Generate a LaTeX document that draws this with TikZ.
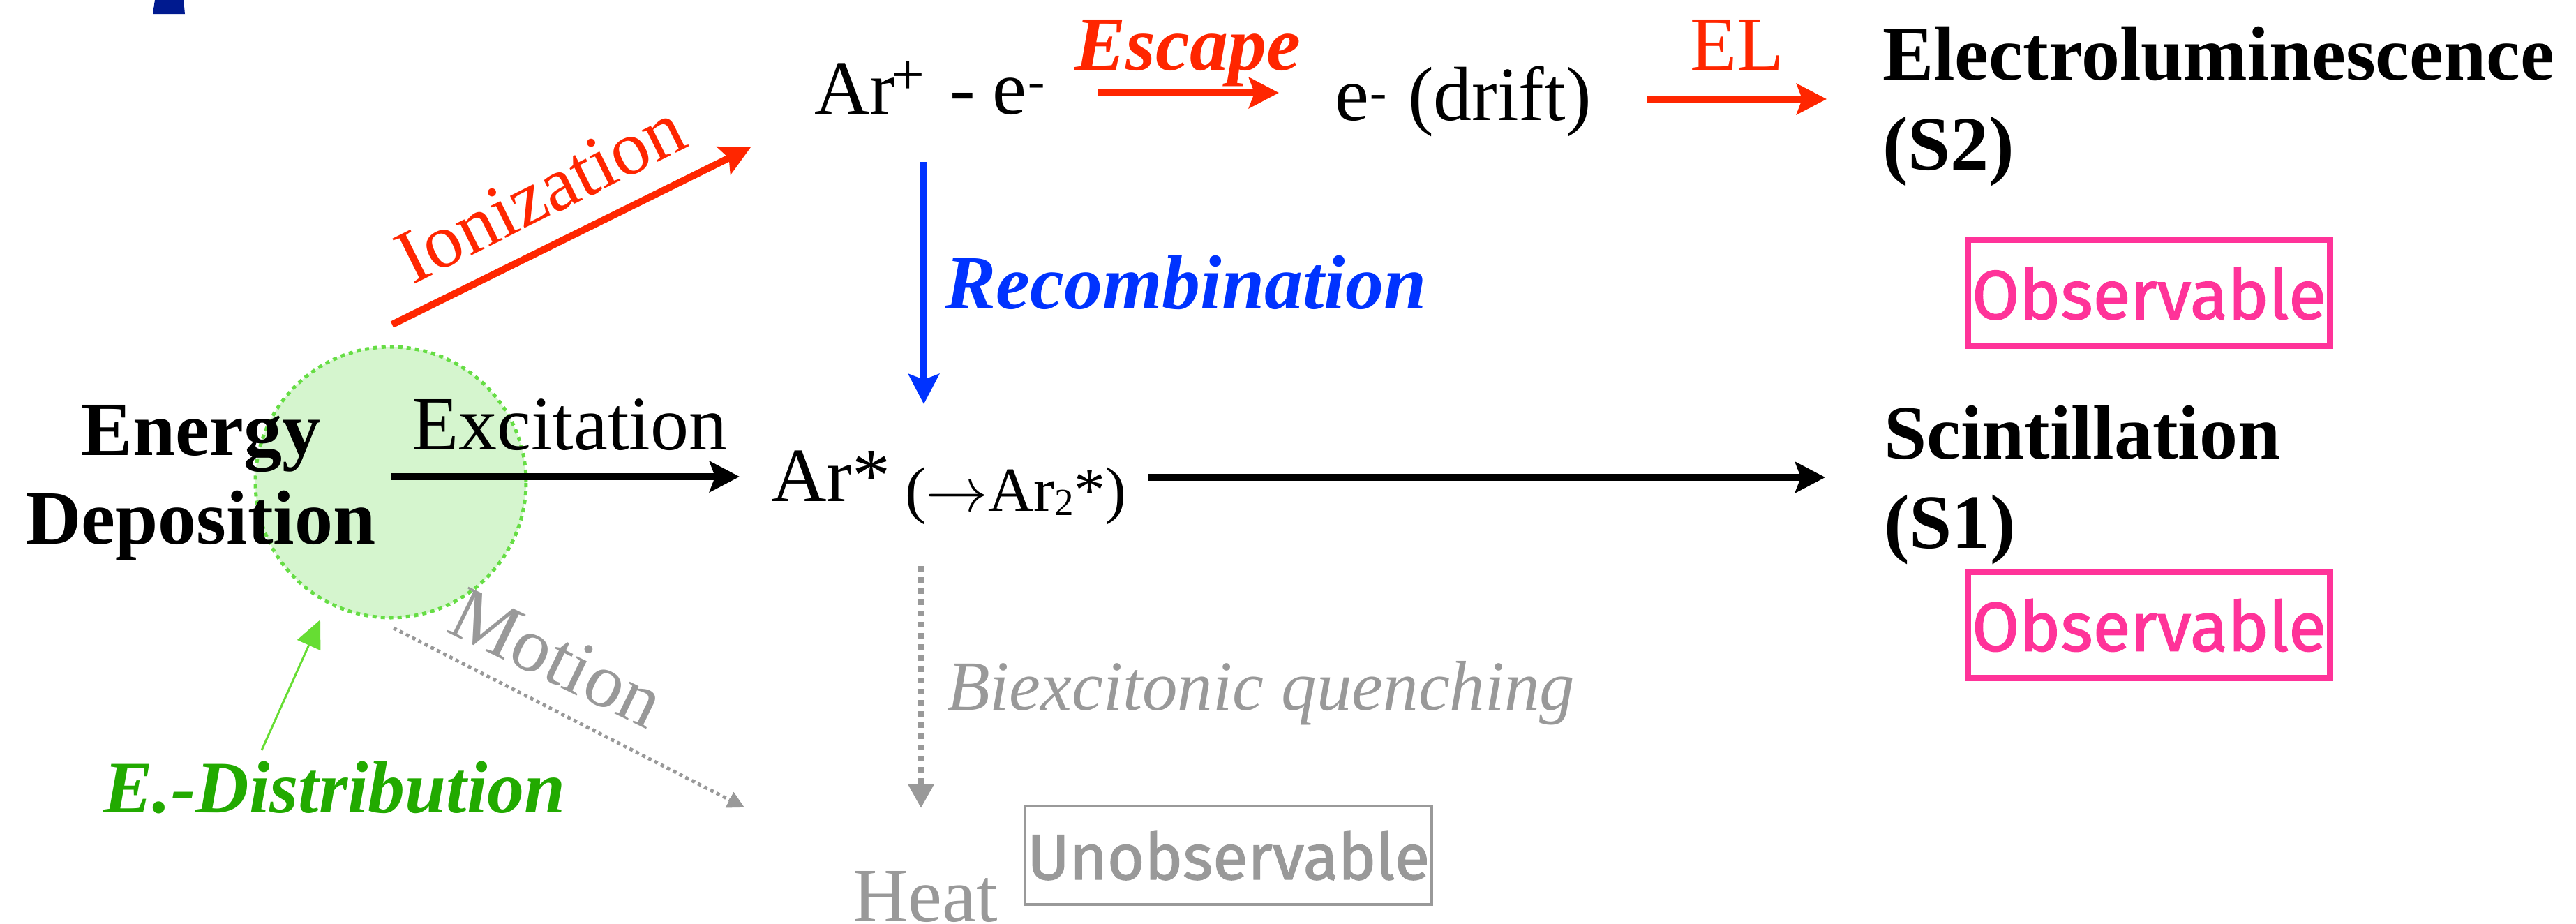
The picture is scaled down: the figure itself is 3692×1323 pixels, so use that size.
\documentclass[tikz,border=0pt]{standalone}
\usepackage{fix-cm}
\usepackage{fontspec}
\setmainfont{Liberation Serif}
\newfontfamily\stampfont{Fira Sans}[FakeBold=1.5]
\usetikzlibrary{arrows.meta}
\definecolor{redA}{RGB}{255,38,0}
\definecolor{blueA}{RGB}{0,51,255}
\definecolor{greenT}{RGB}{34,170,0}
\definecolor{greenA}{RGB}{102,221,51}
\definecolor{greenFill}{RGB}{213,245,206}
\definecolor{greenDot}{RGB}{102,221,68}
\definecolor{grayA}{RGB}{153,153,153}
\definecolor{pinkA}{RGB}{255,51,153}
\definecolor{navyA}{RGB}{0,26,143}
\newcommand\setfs[2]{\fontsize{#1}{#2}\selectfont}
\tikzset{
  txt/.style={anchor=base west, inner sep=0pt, outer sep=0pt, font=\setfs{110}{128}},
  bigarrow/.style={line width=10pt, -{Stealth[length=43pt,width=44pt,inset=8pt]}},
  stampbox/.style={draw=pinkA, line width=9pt, minimum width=519pt, minimum height=152pt,
    inner sep=0pt, text=pinkA, font=\stampfont\setfs{99}{110}, text height=75pt, text depth=0pt},
  graybox/.style={draw=grayA, line width=4pt, minimum width=583pt, minimum height=141pt,
    inner sep=0pt, text=grayA, font=\stampfont\setfs{92}{100}, text height=69pt, text depth=0pt}
}
\begin{document}
\begin{tikzpicture}[x=1pt,y=-1pt]
\useasboundingbox (0,0) rectangle (3692,1323);
% top-left fragment
\fill[navyA] (222,0) -- (263,0) -- (265,20) -- (219,20) -- cycle;
% energy deposition blob
\node[circle, minimum size=388pt, inner sep=0pt, fill=greenFill, draw=greenDot,
      line width=5pt, dash pattern=on 6pt off 6pt] (blob) at (560,691) {};
\node[anchor=base, align=center, inner sep=0pt, font=\bfseries\setfs{110}{127}] (dep) at (288,779) {Energy\\Deposition};
% coordinates
\coordinate (ionS) at (562,465); \coordinate (ionE) at (1076,211);
\coordinate (excS) at (561,683); \coordinate (excE) at (1060,683);
\coordinate (motS) at (564,900); \coordinate (motE) at (1067,1157);
\coordinate (edS) at (375,1075); \coordinate (edE) at (459,888);
\coordinate (escS) at (1574,133); \coordinate (escE) at (1833,133);
\coordinate (elS) at (2360,142); \coordinate (elE) at (2618,142);
\coordinate (recS) at (1324,232); \coordinate (recE) at (1324,579);
\coordinate (sciS) at (1646,684); \coordinate (sciE) at (2616,684);
\coordinate (bqS) at (1320,811); \coordinate (bqE) at (1320,1158);
% arrows
\draw[bigarrow, redA] (ionS) -- (ionE);
\draw[bigarrow, black] (excS) -- (excE);
\draw[grayA, line width=5pt, dash pattern=on 5pt off 5pt, -{Triangle[length=24pt,width=24pt]}] (motS) -- (motE);
\draw[greenA, line width=3pt, -{Triangle[length=40pt,width=36pt]}] (edS) -- (edE);
\draw[bigarrow, redA] (escS) -- (escE);
\draw[bigarrow, redA] (elS) -- (elE);
\draw[bigarrow, blueA] (recS) -- (recE);
\draw[bigarrow, black] (sciS) -- (sciE);
\draw[grayA, line width=8pt, dash pattern=on 8pt off 8pt, -{Triangle[length=34pt,width=35pt]}] (bqS) -- (bqE);
% texts
\node[txt, rotate=26.5, text=redA] (ion) at (591,408) {Ionization};
\node[txt] (exc) at (590,644) {Excitation};
\node[txt, rotate=-26, text=grayA] (mot) at (637,904) {Motion};
\node[txt, font=\bfseries\itshape\setfs{106}{120}, text=greenT] (edist) at (148,1164) {E.-Distribution};
\node[txt] (arion) at (1167,163) {Ar\kern-6pt\raisebox{28pt}{\setfs{85}{85}+}\hspace{36pt}-\hspace{25pt}e\hspace{2pt}\raisebox{23pt}{\setfs{73}{73}-}};
\node[txt, font=\bfseries\itshape\setfs{110}{128}, text=redA] (esc) at (1540,100) {Escape};
\node[txt] (drift) at (1913,172) {e\hspace{2pt}\raisebox{16pt}{\setfs{73}{73}-}\hspace{30pt}(drift)};
\node[txt, text=redA] (el) at (2422,100) {EL};
\node[txt, align=left, font=\bfseries\setfs{110}{129}] (s2) at (2698,243) {Electroluminescence\\(S2)};
\node[txt, font=\bfseries\itshape\setfs{110}{128}, text=blueA] (rec) at (1354,442) {Recombination};
\node[txt] (arstar) at (1105,718) {Ar*};
\node[txt, font=\setfs{90}{100}] (ar2) at (1297,732) {($\rightarrow$Ar\raisebox{-6pt}{\setfs{55}{55}2}*)};
\node[txt, align=left, font=\bfseries\setfs{110}{128}] (s1) at (2700,785) {Scintillation\\(S1)};
\node[txt, font=\itshape\setfs{101}{120}, text=grayA] (bq) at (1357,1017) {Biexcitonic quenching};
\node[txt, text=grayA] (heat) at (1222,1320) {Heat};
% stamps
\node[stampbox] (obs2) at (3080,419.5) {Observable};
\node[stampbox] (obs1) at (3080,895) {Observable};
\node[graybox] (unobs) at (1760.5,1225.5) {Unobservable};
\end{tikzpicture}
\end{document}
